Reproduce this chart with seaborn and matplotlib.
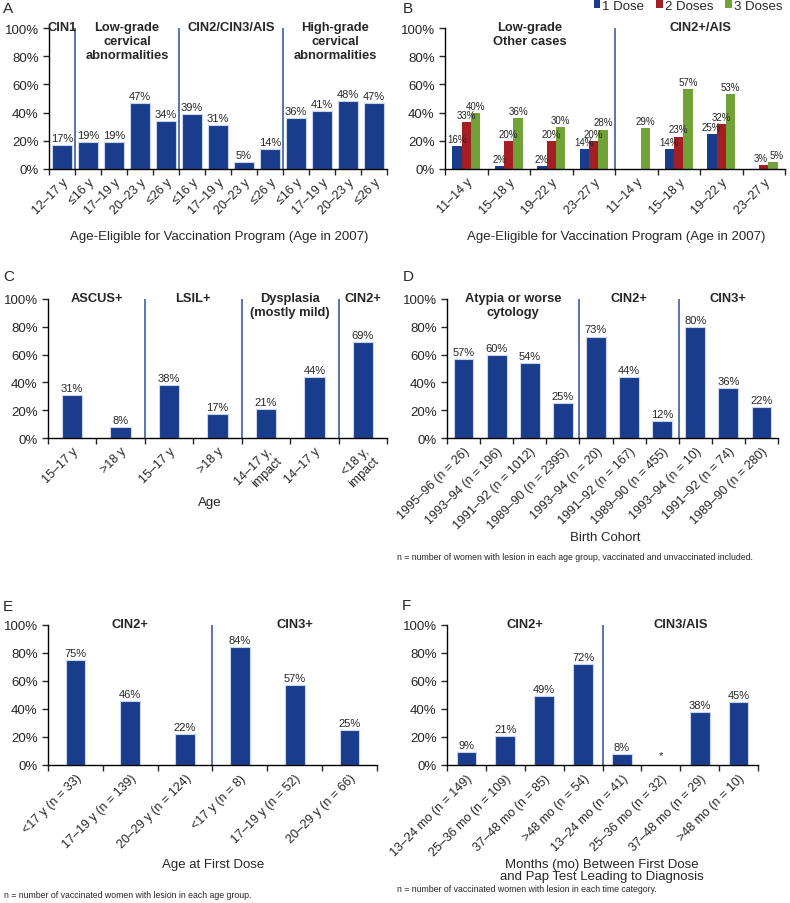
import numpy as np
import pandas as pd
import seaborn as sns
import matplotlib.pyplot as plt

W, H = 790, 904
NAVY = '#1a3c8c'
RED = '#a31f24'
GREEN = '#70a238'
DIV = '#2c4f9c'
EDGE = '#c9d5ec'

# panel A
a_labels = ['12–17 y', '≤16 y', '17–19 y', '20–23 y', '≤26 y', '≤16 y', '17–19 y',
            '20–23 y', '≤26 y', '≤16 y', '17–19 y', '20–23 y', '≤26 y']
a_values = [17, 19, 19, 47, 34, 39, 31, 5, 14, 36, 41, 48, 47]
a_groups = ['CIN1', 'Low-grade\ncervical\nabnormalities', 'CIN2/CIN3/AIS',
            'High-grade\ncervical\nabnormalities']
a_sizes = [1, 4, 4, 4]

# panel B
b_labels = ['11–14 y', '15–18 y', '19–22 y', '23–27 y'] * 2
doses = ['1 Dose', '2 Doses', '3 Doses']
b_dose1 = [16, 2, 2, 14, np.nan, 14, 25, np.nan]
b_dose2 = [33, 20, 20, 20, np.nan, 23, 32, 3]
b_dose3 = [40, 36, 30, 28, 29, 57, 53, 5]
b_groups = ['Low-grade\nOther cases', 'CIN2+/AIS']
b_sizes = [4, 4]

# panel C
c_labels = ['15–17 y', '>18 y', '15–17 y', '>18 y', '14–17 y,\nimpact', '14–17 y',
            '<18 y,\nimpact']
c_values = [31, 8, 38, 17, 21, 44, 69]
c_groups = ['ASCUS+', 'LSIL+', 'Dysplasia\n(mostly mild)', 'CIN2+']
c_sizes = [2, 2, 2, 1]

# panel D
d_labels = ['1995–96 (n = 26)', '1993–94 (n = 196)', '1991–92 (n = 1012)',
            '1989–90 (n = 2395)', '1993–94 (n = 20)', '1991–92 (n = 167)',
            '1989–90 (n = 455)', '1993–94 (n = 10)', '1991–92 (n = 74)',
            '1989–90 (n = 280)']
d_values = [57, 60, 54, 25, 73, 44, 12, 80, 36, 22]
d_groups = ['Atypia or worse\ncytology', 'CIN2+', 'CIN3+']
d_sizes = [4, 3, 3]

# panel E
e_labels = ['<17 y (n = 33)', '17–19 y (n = 139)', '20–29 y (n = 124)',
            '<17 y (n = 8)', '17–19 y (n = 52)', '20–29 y (n = 66)']
e_values = [75, 46, 22, 84, 57, 25]
e_groups = ['CIN2+', 'CIN3+']
e_sizes = [3, 3]

# panel F (25–36 mo CIN3/AIS marked with *)
f_labels = ['13–24 mo (n = 149)', '25–36 mo (n = 109)', '37–48 mo (n = 85)',
            '>48 mo (n = 54)', '13–24 mo (n = 41)', '25–36 mo (n = 32)',
            '37–48 mo (n = 29)', '>48 mo (n = 10)']
f_values = [9, 21, 49, 72, 8, np.nan, 38, 45]
f_groups = ['CIN2+', 'CIN3/AIS']
f_sizes = [4, 4]

sns.set_style('ticks')
plt.rcParams['font.family'] = ['Liberation Sans', 'DejaVu Sans']

fig = plt.figure(figsize=(W / 100, H / 100), dpi=100)


def px_axes(left, right, y0, y100):
    return fig.add_axes([left / W, 1 - y0 / H, (right - left) / W, (y0 - y100) / H])


def ftext(x, y, s, **kw):
    fig.text(x / W, 1 - y / H, s, **kw)


def style(ax, labels, groups, sizes):
    n = len(labels)
    ax.set_xlim(-0.5, n - 0.5)
    ax.set_ylim(0, 100)
    ax.set_yticks(range(0, 101, 20))
    ax.set_yticklabels([f'{v}%' for v in range(0, 101, 20)])
    ax.set_xticks(range(n))
    ax.set_xticklabels(labels, rotation=45, ha='right', va='top',
                       rotation_mode='anchor', fontsize=9)
    ax.set_xticks(np.arange(-0.5, n), minor=True)
    ax.tick_params(axis='x', which='major', length=0, pad=5)
    ax.tick_params(axis='x', which='minor', length=4, direction='out', width=1)
    ax.tick_params(axis='y', length=4, direction='out', labelsize=9.5, width=1)
    ax.set_xlabel('')
    ax.set_ylabel('')
    sns.despine(ax=ax)
    for s in ['left', 'bottom']:
        ax.spines[s].set_color('black')
        ax.spines[s].set_linewidth(1)
    start = 0
    for i, (g, sz) in enumerate(zip(groups, sizes)):
        if i > 0:
            ax.axvline(start - 0.5, color=DIV, lw=1.1)
        ax.text(start + sz / 2 - 0.5, 105, g, ha='center', va='top',
                fontsize=9.3, fontweight='bold', linespacing=1.22, clip_on=False)
        start += sz


def single(ax, labels, values, width):
    df = pd.DataFrame({'pos': [str(i) for i in range(len(labels))],
                       'value': values})
    order = list(df['pos'])
    df = df.dropna()
    sns.barplot(data=df, x='pos', y='value', order=order, color=NAVY, width=width,
                errorbar=None, edgecolor=EDGE, linewidth=0.8, saturation=1, ax=ax)
    for c in ax.containers:
        ax.bar_label(c, labels=[f'{v:.0f}%' for v in c.datavalues],
                     fontsize=8, padding=1.5)


# A
axA = px_axes(49, 387, 170, 29)
single(axA, a_labels, a_values, 0.74)
style(axA, a_labels, a_groups, a_sizes)
ftext(219, 237, 'Age-Eligible for Vaccination Program (Age in 2007)',
      ha='center', va='center', fontsize=9.5)

# B
axB = px_axes(445, 785, 170, 29)
b_df = pd.DataFrame({
    'pos': [str(i) for i in range(len(b_labels))] * 3,
    'dose': np.repeat(doses, len(b_labels)),
    'value': b_dose1 + b_dose2 + b_dose3,
})
b_order = [str(i) for i in range(len(b_labels))]
sns.barplot(data=b_df.dropna(), x='pos', y='value', hue='dose', order=b_order,
            hue_order=doses, palette=[NAVY, RED, GREEN], width=0.67,
            errorbar=None, saturation=1, edgecolor='none', ax=axB)
b_anns = []
for c in axB.containers:
    b_anns.append(axB.bar_label(c, labels=[f'{v:.0f}%' for v in c.datavalues],
                                fontsize=7, padding=1.5))
# last pair of labels sits on very thin bars, spread them apart a little
b_anns[1][-1].xyann = (-2.5, 1.5)
b_anns[2][-1].xyann = (2.5, 1.5)
axB.legend(loc='upper right', bbox_to_anchor=(783 / W, 1.0),
           bbox_transform=fig.transFigure, ncol=3, frameon=False, fontsize=9.5,
           handlelength=0.5, handleheight=0.5, handletextpad=0.15,
           columnspacing=0.9, borderpad=0.05, borderaxespad=0)
style(axB, b_labels, b_groups, b_sizes)
ftext(616, 237, 'Age-Eligible for Vaccination Program (Age in 2007)',
      ha='center', va='center', fontsize=9.5)

# C
axC = px_axes(48, 387, 439, 300)
single(axC, c_labels, c_values, 0.42)
style(axC, c_labels, c_groups, c_sizes)
ftext(210, 503, 'Age', ha='center', va='center', fontsize=9.5)

# D
axD = px_axes(447, 778, 439, 300)
single(axD, d_labels, d_values, 0.6)
style(axD, d_labels, d_groups, d_sizes)
ftext(605, 538, 'Birth Cohort', ha='center', va='center', fontsize=9.5)
ftext(397, 557, 'n = number of women with lesion in each age group, vaccinated and '
      'unvaccinated included.', ha='left', va='center', fontsize=6.3)

# E
axE = px_axes(48, 377, 766, 626)
single(axE, e_labels, e_values, 0.36)
style(axE, e_labels, e_groups, e_sizes)
ftext(213, 865, 'Age at First Dose', ha='center', va='center', fontsize=9.5)
ftext(4, 896, 'n = number of vaccinated women with lesion in each age group.',
      ha='left', va='center', fontsize=6.3)

# F
axF = px_axes(447, 758, 766, 626)
single(axF, f_labels, f_values, 0.51)
style(axF, f_labels, f_groups, f_sizes)
axF.text(5, 7, '*', ha='center', va='center', fontsize=8)
ftext(602, 871, 'Months (mo) Between First Dose\nand Pap Test Leading to Diagnosis',
      ha='center', va='center', fontsize=9.5, linespacing=1.05)
ftext(397, 890, 'n = number of vaccinated women with lesion in each time category.',
      ha='left', va='center', fontsize=6.3)

# panel letters
for letter, x, y in [('A', 3, 9), ('B', 403, 9), ('C', 3, 277), ('D', 403, 277),
                     ('E', 3, 607), ('F', 402, 606)]:
    ftext(x, y, letter, ha='left', va='center', fontsize=11)

fig.savefig('out.png', dpi=100)
